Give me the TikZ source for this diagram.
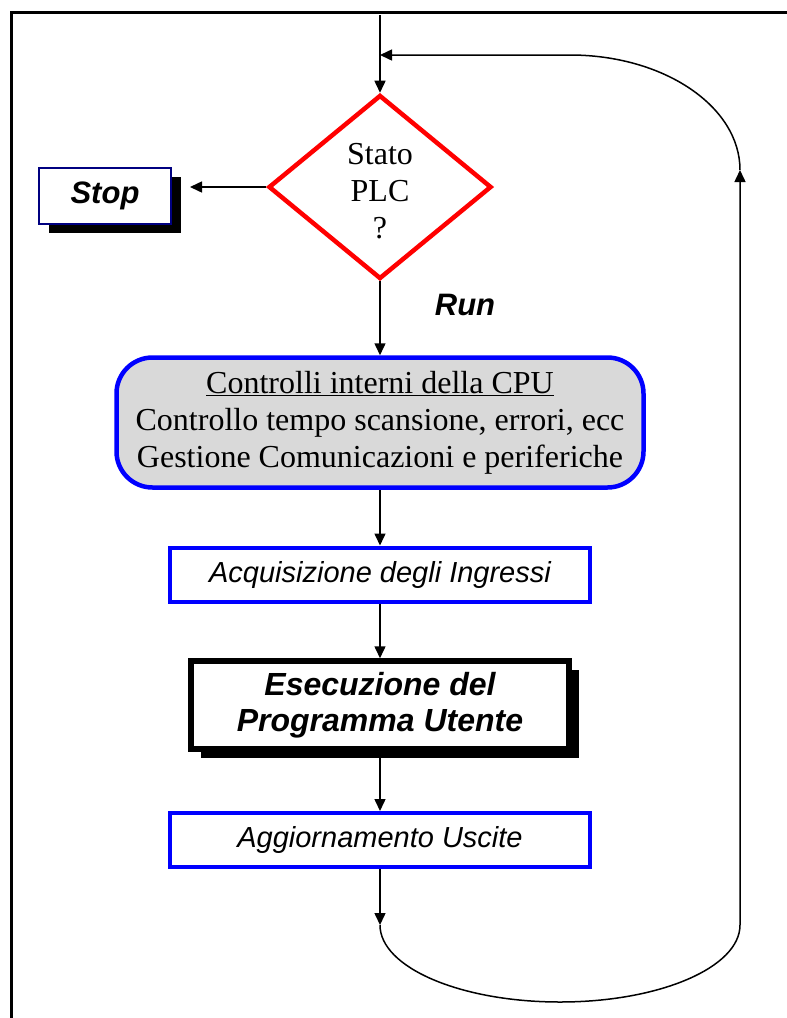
\documentclass[tikz,border=0pt]{standalone}
\usepackage{fontspec}
\setmainfont{Liberation Serif}
\setsansfont{Liberation Sans}
\usepackage{tikz}
\usetikzlibrary{arrows.meta,shapes.geometric,shadows}

\definecolor{plcred}{RGB}{255,0,0}
\definecolor{plcblue}{RGB}{0,0,255}
\definecolor{plcnavy}{RGB}{0,0,128}
\definecolor{plcgray}{RGB}{217,217,217}

\tikzset{
  blackshadow/.style={drop shadow={shadow xshift=10pt,shadow yshift=-9pt,opacity=1,fill=black}},
  decision/.style={diamond, draw=plcred, line width=4.5pt, inner sep=0pt,
    minimum width=223pt, minimum height=184pt, align=center,
    font=\fontsize{32}{37}\selectfont},
  checks/.style={rectangle, rounded corners=36pt, draw=plcblue, fill=plcgray,
    line width=4.5pt, minimum width=527pt, minimum height=130pt, align=center,
    font=\fontsize{32}{37}\selectfont},
  stepbox/.style={rectangle, draw=plcblue, fill=white, line width=4pt,
    minimum width=420pt, minimum height=54pt,
    font=\sffamily\itshape\fontsize{29}{34}\selectfont},
  userbox/.style={rectangle, draw=black, fill=white, line width=5.5pt,
    minimum width=378pt, minimum height=88pt, align=center, blackshadow,
    font=\sffamily\bfseries\itshape\fontsize{32}{36}\selectfont},
  stopbox/.style={rectangle, draw=plcnavy, fill=white, line width=2pt,
    minimum width=132pt, minimum height=56pt, blackshadow,
    font=\sffamily\bfseries\itshape\fontsize{31}{36}\selectfont},
  runlabel/.style={font=\sffamily\bfseries\itshape\fontsize{31}{36}\selectfont}
}

\begin{document}
\begin{tikzpicture}[->, >={Triangle[length=12pt,width=11pt]}, x=1pt, y=1pt,
    line width=1.5pt, node distance=135pt]
  \useasboundingbox (0,0) rectangle (787,-1018);
  % frame
  \draw[-, line width=3pt] (11,-1018) -- (11,-12) -- (787,-12);

  \node[decision] (D) at (380,-187)
    {\raisebox{-7pt}[\height][\depth]{\begin{tabular}{@{}c@{}}Stato\\PLC\\?\end{tabular}}};
  \node[stopbox]  (S) [left of=D, node distance=275pt, yshift=-9pt] {Stop};
  \node[checks]   (R) [below of=D, node distance=235.5pt]
    {\underline{Controlli interni della CPU}\\Controllo tempo scansione, errori, ecc\\Gestione Comunicazioni e periferiche};
  \node[stepbox]  (I) [below of=R, node distance=152pt]      {Acquisizione degli Ingressi};
  \node[userbox]  (E) [below of=I, node distance=130.5pt]    {Esecuzione del\\Programma Utente};
  \node[stepbox]  (U) [below of=E]                           {Aggiornamento Uscite};
  \node[runlabel] (run) at (465,-305)                        {Run};

  \coordinate (in)    at (380,-15);
  \coordinate (join)  at (380,-55);
  \coordinate (loopL) at (380,-925);
  \coordinate (up)    at (740,-170);

  \path (in) edge (D)
        (D)  edge (R)
             edge [shorten >=18pt] (D.west -| S.east)
        (R)  edge (I)
        (I)  edge (E)
        (E)  edge (U)
        (U)  edge (loopL);

  % loop back to the start
  \draw (loopL) arc[start angle=180, end angle=360, x radius=180, y radius=77] -- (up);
  \draw (up) arc[start angle=0, end angle=90, x radius=170, y radius=115] -- (join);
\end{tikzpicture}
\end{document}
